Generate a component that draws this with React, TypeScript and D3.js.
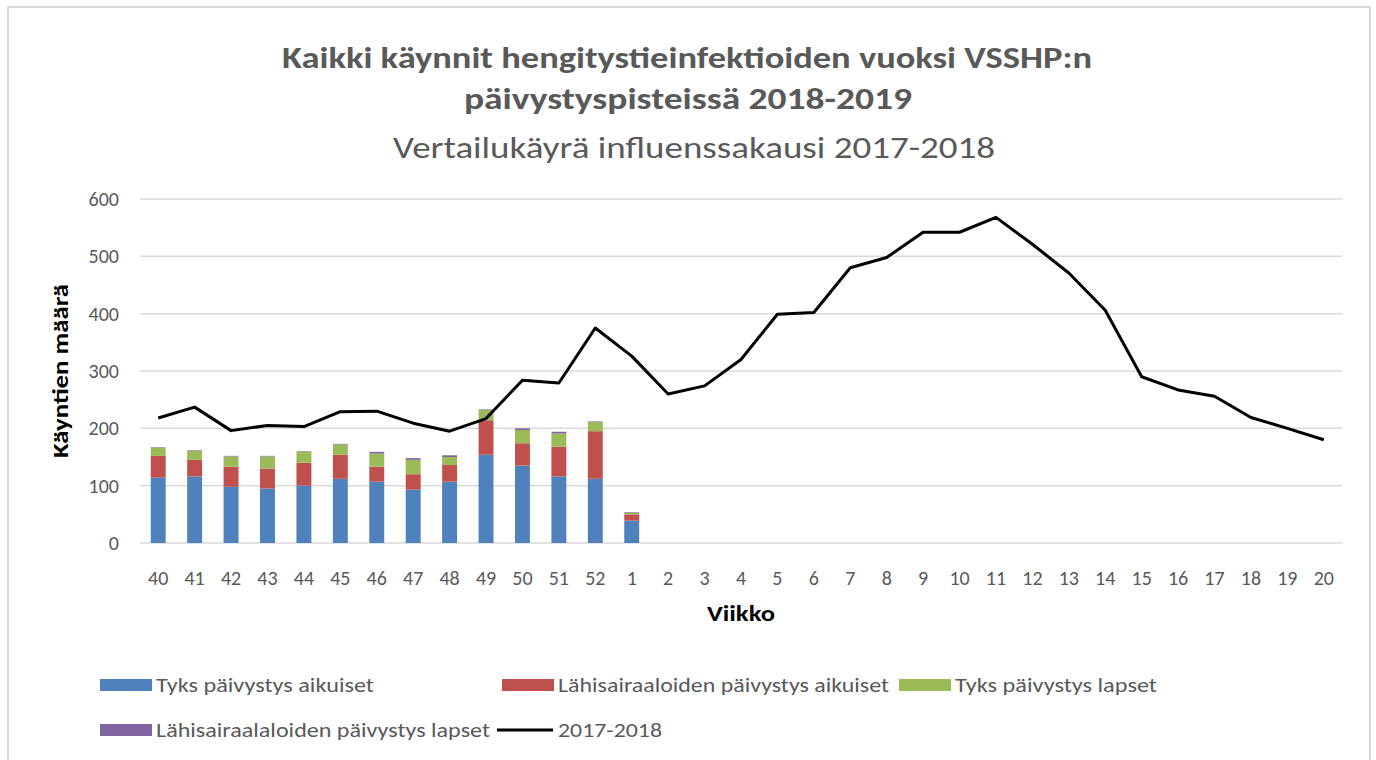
import React from "react";
import * as d3 from "d3";

const weeks = ["40","41","42","43","44","45","46","47","48","49","50","51","52","1","2","3","4","5","6","7","8","9","10","11","12","13","14","15","16","17","18","19","20"];
const barWeeks = ["40","41","42","43","44","45","46","47","48","49","50","51","52","1"];
const tyksAikuiset = [114,116,98,95,100,112,107,93,107,154,135,116,112,39];
const lahiAikuiset = [38,29,35,35,40,42,26,27,29,60,39,52,83,11];
const tyksLapset = [14,16,18,21,19,18,23,25,14,18,23,23,16,3];
const lahiLapset = [1,1,1,1,1,1,3,3,3,1,3,3,1,1];
const season1718 = [218,237,196,205,203,229,230,209,195,217,284,279,375,326,260,274,320,399,402,480,498,542,542,568,521,471,406,290,267,256,219,200,180];
const yTicks = [0,100,200,300,400,500,600];

const seriesNames = ["Tyks päivystys aikuiset","Lähisairaaloiden päivystys aikuiset","Tyks päivystys lapset","Lähisairaalaloiden päivystys lapset"];
const seriesColors = ["#4F81BD","#C0504D","#9BBB59","#8064A2"];
const lineName = "2017-2018";

const FONT = "Carlito, Calibri, Lato, 'Open Sans', sans-serif";
const GRAY = "#595959";

function T(props: any) {
  const { w, children, ...rest } = props;
  return (
    <text {...rest} textLength={w} lengthAdjust="spacingAndGlyphs">{children}</text>
  );
}

export default function App() {
  const W = 1376, H = 760;
  const left = 140, right = 1342, top = 199, bottom = 543;
  const x = d3.scalePoint<string>().domain(weeks).range([left, right]).padding(0.5);
  const step = x.step();
  const barW = step * 0.41;
  const y = d3.scaleLinear().domain([0, 600]).range([bottom, top]);

  const rows = barWeeks.map((w, i) => ({ week: w, s0: tyksAikuiset[i], s1: lahiAikuiset[i], s2: tyksLapset[i], s3: lahiLapset[i] }));
  const stack = d3.stack<any>().keys(["s0","s1","s2","s3"])(rows);

  const line = d3.line<number>().x((_, i) => x(weeks[i])!).y(d => y(d));

  const legendRow1 = 685, legendRow2 = 730;
  const legendItems = [
    { x: 100, y: legendRow1, k: 0, w: 218 },
    { x: 502, y: legendRow1, k: 1, w: 331 },
    { x: 899, y: legendRow1, k: 2, w: 202 },
    { x: 100, y: legendRow2, k: 3, w: 334 },
  ];

  return (
    <svg width={W} height={H} style={{ position: "absolute", left: 0, top: 0, background: "#fff" }} fontFamily={FONT}>
      <rect x={0} y={0} width={W} height={H} fill="#fff" />
      <rect x={8} y={7} width={1362} height={H} fill="none" stroke="#d9d9d9" strokeWidth={2} />
      <T x={687} y={68} w={810} textAnchor="middle" fontSize={31} fontWeight="bold" fill={GRAY}>Kaikki käynnit hengitystieinfektioiden vuoksi VSSHP:n</T>
      <T x={688} y={109} w={448} textAnchor="middle" fontSize={31} fontWeight="bold" fill={GRAY}>päivystyspisteissä 2018-2019</T>
      <T x={694} y={158} w={602} textAnchor="middle" fontSize={31} fill={GRAY}>Vertailukäyrä influenssakausi 2017-2018</T>

      {yTicks.map(t => (
        <g key={t}>
          <line x1={left} x2={right} y1={y(t)} y2={y(t)} stroke="#d9d9d9" strokeWidth={1.5} />
          <text x={119} y={y(t)} dy="0.35em" textAnchor="end" fontSize={20} fill={GRAY}>{t}</text>
        </g>
      ))}

      {stack.map((layer, k) => (
        <g key={k} fill={seriesColors[k]}>
          {layer.map((d, i) => (
            <rect key={i} x={x(barWeeks[i])! - barW / 2} y={y(d[1])} width={barW} height={Math.max(0, y(d[0]) - y(d[1]))} />
          ))}
        </g>
      ))}

      <path d={line(season1718)!} fill="none" stroke="#000" strokeWidth={3} strokeLinejoin="round" />

      {weeks.map(w => (
        <text key={w} x={x(w)} y={585} textAnchor="middle" fontSize={20} fill={GRAY}>{w}</text>
      ))}
      <T x={(left + right) / 2} y={621} w={68} textAnchor="middle" fontSize={22} fontWeight="bold" fill="#000">Viikko</T>
      <T transform={`translate(68, ${(top + bottom) / 2}) rotate(-90)`} w={174} textAnchor="middle" fontSize={22} fontWeight="bold" fill="#000">Käyntien määrä</T>

      {legendItems.map(it => (
        <g key={it.k}>
          <rect x={it.x} y={it.y - 6} width={52} height={12} fill={seriesColors[it.k]} />
          <T x={it.x + 56} y={it.y} w={it.w} dy="0.35em" fontSize={20} fill={GRAY}>{seriesNames[it.k]}</T>
        </g>
      ))}
      <line x1={497} x2={553} y1={legendRow2} y2={legendRow2} stroke="#000" strokeWidth={3} />
      <T x={558} y={legendRow2} w={104} dy="0.35em" fontSize={20} fill={GRAY}>{lineName}</T>
    </svg>
  );
}
